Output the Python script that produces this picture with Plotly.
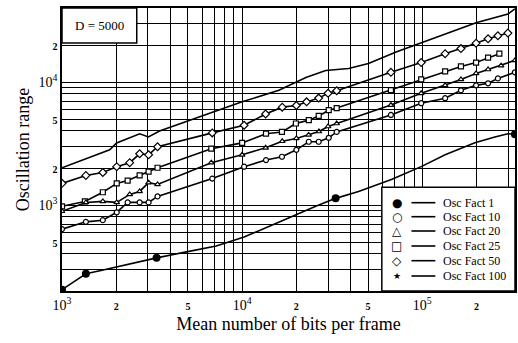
import plotly.graph_objects as go

# ---------------- data ----------------
of1_x = [1000, 1357, 1622, 2013, 3350, 4910, 7180, 10256, 18870, 25640, 33050, 44300,
         67400, 98700, 134000, 196000, 253000, 299000, 327000]
of1_y = [205, 276, 292, 315, 372, 416, 465, 549, 811, 977, 1133, 1290,
         1610, 2052, 2564, 3203, 3580, 3800, 3760]
of1_mark_x = [1000, 1357, 3350, 33050, 327000]
of1_mark_y = [205, 276, 372, 1133, 3760]

of10_x = [1000, 1357, 1685, 2013, 2315, 2698, 3025, 3391, 6829, 10256, 13570, 16640, 20000,
          23450, 26620, 30260, 33500, 67000, 98700, 134000, 164000, 199000, 232000, 263000, 327000]
of10_y = [637, 730, 753, 873, 1050, 1050, 1050, 1175, 1640, 2050, 2320, 2470, 2810,
          3270, 3270, 3520, 3930, 5400, 6730, 7390, 8570, 9400, 9770, 10700, 12000]

of20_x = [1000, 1357, 1685, 2013, 2376, 2698, 3025, 3391, 6742, 10000, 13500, 16700, 20000,
          23400, 26700, 30000, 33500, 67000, 98700, 134000, 164000, 199000, 232000, 274000, 327000]
of20_y = [890, 1050, 1070, 1050, 1220, 1290, 1520, 1470, 2210, 2560, 2920, 3300, 3480,
          3720, 3960, 4350, 4600, 6500, 8100, 9400, 10500, 11750, 12650, 13600, 15000]

of25_x = [1000, 1340, 1685, 2013, 2315, 2698, 3025, 3391, 6742, 10000, 13570, 16640, 19880,
          23450, 26620, 30260, 33500, 67000, 98700, 134000, 164000, 199000, 232000, 268000]
of25_y = [976, 1070, 1270, 1500, 1580, 1740, 1870, 2010, 2870, 3200, 3800, 3930, 4600,
          4900, 5300, 5900, 6140, 8600, 10500, 12200, 13400, 14400, 15800, 17000]

of50_x = [1000, 1357, 1685, 2013, 2376, 2698, 3025, 3391, 6829, 10256, 13500, 16700, 20000,
          22800, 26600, 30000, 33500, 67000, 98700, 134000, 164000, 199000, 232000, 263000, 299000]
of50_y = [1500, 1740, 1840, 2050, 2210, 2610, 2560, 2980, 3860, 4450, 5500, 6250, 6450,
          6900, 7400, 8100, 8500, 12000, 14400, 17000, 18700, 20700, 22500, 23800, 25000]

of100_x = [1000, 1840, 2010, 2700, 3020, 3480, 10000, 16000, 22600, 29100, 39000, 50300,
           71000, 98700, 199000, 299000, 327000]
of100_y = [2010, 2810, 3200, 3790, 3580, 4000, 6900, 8570, 10900, 12400, 12900, 14150,
           17500, 20900, 30300, 35800, 39300]

legend_names = ["Osc Fact 1", "Osc Fact 10", "Osc Fact 20", "Osc Fact 25", "Osc Fact 50", "Osc Fact 100"]
legend_symbols = ["\u25CF", "\u25CB", "\u25B3", "\u25A1", "\u25C7", "\u2605"]

x_tickvals = [k * 10 ** d for d in (3, 4, 5) for k in range(1, 10) if k * 10 ** d <= 300000]
x_labels = {1000: "10<sup>3</sup>", 2000: "2", 5000: "5", 10000: "10<sup>4</sup>",
            20000: "2", 50000: "5", 100000: "10<sup>5</sup>", 200000: "2"}
y_tickvals = [k * 10 ** d for d in (2, 3, 4) for k in range(1, 10) if 200 <= k * 10 ** d <= 40000]
y_labels = {500: "5", 1000: "10<sup>3</sup>", 2000: "2", 5000: "5", 10000: "10<sup>4</sup>", 20000: "2"}

annotation_text = "D = 5000"
x_title = "Mean number of bits per frame"
y_title = "Oscillation range"

# ---------------- figure ----------------
SERIF = "Liberation Serif"


def fmt(v):
    if v.startswith("10"):
        return v
    return "<span style='font-size:10px'><b>" + v + "</b></span>"


fig = go.Figure()
line = dict(color="black", width=1.6)
mk = dict(color="white", size=5, line=dict(color="black", width=1.2))

fig.add_trace(go.Scatter(x=of100_x, y=of100_y, mode="lines", line=line, showlegend=False))
fig.add_trace(go.Scatter(x=of50_x, y=of50_y, mode="lines+markers", line=line,
                         marker=dict(mk, symbol="diamond", size=6), showlegend=False))
fig.add_trace(go.Scatter(x=of25_x, y=of25_y, mode="lines+markers", line=line,
                         marker=dict(mk, symbol="square"), showlegend=False))
fig.add_trace(go.Scatter(x=of20_x, y=of20_y, mode="lines+markers", line=line,
                         marker=dict(mk, symbol="triangle-up"), showlegend=False))
fig.add_trace(go.Scatter(x=of10_x, y=of10_y, mode="lines+markers", line=line,
                         marker=dict(mk, symbol="circle"), showlegend=False))
fig.add_trace(go.Scatter(x=of1_x, y=of1_y, mode="lines", line=line, showlegend=False))
fig.add_trace(go.Scatter(x=of1_mark_x, y=of1_mark_y, mode="markers",
                         marker=dict(color="black", size=8, symbol="circle"), showlegend=False))

axis_common = dict(type="log", showline=True, linecolor="black", linewidth=1.5, mirror=True,
                   showgrid=True, gridcolor="black", gridwidth=1.3, zeroline=False, ticks="",
                   tickfont=dict(family=SERIF, size=14, color="black"))
fig.update_xaxes(axis_common, range=[3, 5.515], tickmode="array", tickvals=x_tickvals,
                 ticktext=[fmt(x_labels[v]) if v in x_labels else "" for v in x_tickvals],
                 title=dict(text=x_title, font=dict(family=SERIF, size=18, color="black"), standoff=6))
fig.update_yaxes(axis_common, range=[2.301, 4.602], tickmode="array", tickvals=y_tickvals,
                 ticktext=[fmt(y_labels[v]) if v in y_labels else "" for v in y_tickvals],
                 title=dict(text=y_title, font=dict(family=SERIF, size=18, color="black"), standoff=4))

shapes = []
annotations = []
# D = 5000 box
shapes.append(dict(type="rect", xref="paper", yref="paper", x0=0, x1=0.165, y0=0.876, y1=1,
                   fillcolor="white", line=dict(color="black", width=1.5), layer="above"))
annotations.append(dict(xref="paper", yref="paper", x=0.0825, y=0.938, text=annotation_text,
                        xanchor="center", yanchor="middle",
                        showarrow=False, font=dict(family=SERIF, size=13, color="black")))
# legend box
lx0, lx1, ly0, ly1 = 0.706, 1.0, 0.0, 0.367
shapes.append(dict(type="rect", xref="paper", yref="paper", x0=lx0, x1=lx1, y0=ly0, y1=ly1,
                   fillcolor="white", line=dict(color="black", width=1.5), layer="above"))
row_px = [202.7, 216.7, 231, 246, 260.7, 276]
for name, sym, py in zip(legend_names, legend_symbols, row_px):
    yp = (291 - py) / 283
    shapes.append(dict(type="line", xref="paper", yref="paper", x0=(413 - 62) / 455, x1=(437 - 62) / 455,
                       y0=yp, y1=yp, line=dict(color="black", width=1.6), layer="above"))
    annotations.append(dict(xref="paper", yref="paper", x=(398 - 62) / 455, y=yp, text=sym,
                            xanchor="center", yanchor="middle",
                            showarrow=False, font=dict(family="DejaVu Sans", size=12 if sym != "\u2605" else 9,
                                                       color="black")))
    annotations.append(dict(xref="paper", yref="paper", x=(443 - 62) / 455, y=yp, text=name,
                            xanchor="left", yanchor="middle", showarrow=False,
                            font=dict(family=SERIF, size=12, color="black")))

fig.update_layout(width=518, height=343, margin=dict(l=62, r=1, t=8, b=52),
                  paper_bgcolor="white", plot_bgcolor="white",
                  shapes=shapes, annotations=annotations, showlegend=False)

fig.write_html("out.html")
